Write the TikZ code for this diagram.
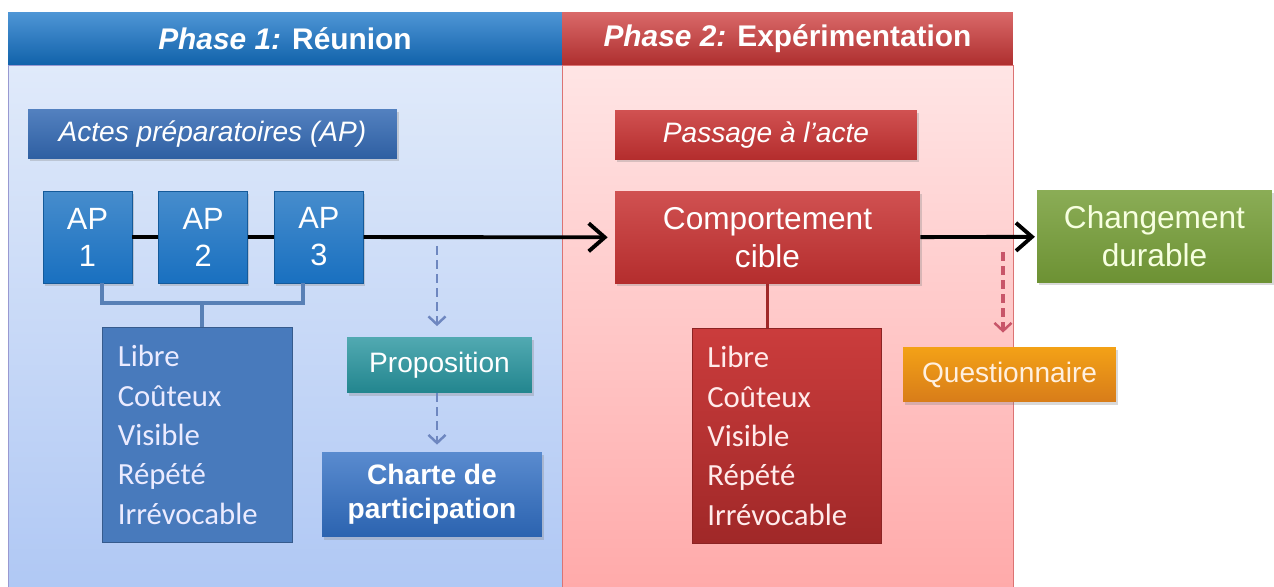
\documentclass[tikz,border=0pt]{standalone}
\usepackage{fontspec}
\setmainfont{Liberation Sans}
\newfontfamily\listfont{Carlito}
\usetikzlibrary{positioning, calc, arrows.meta, shadows}

\definecolor{headblue}{RGB}{20,115,200}
\definecolor{headred}{RGB}{205,55,55}
\definecolor{paleblue}{RGB}{224,234,250}
\definecolor{midblue}{RGB}{176,200,244}
\definecolor{palered}{RGB}{255,229,229}
\definecolor{midred}{RGB}{255,170,170}
\definecolor{apblue}{RGB}{25,112,192}
\definecolor{tagblue}{RGB}{52,106,180}
\definecolor{listblue}{RGB}{72,122,188}
\definecolor{propteal}{RGB}{38,148,158}
\definecolor{charteblue}{RGB}{48,110,195}
\definecolor{boxred}{RGB}{200,50,50}
\definecolor{boxgreen}{RGB}{118,158,56}
\definecolor{boxorange}{RGB}{240,138,28}
\definecolor{linkblue}{RGB}{88,128,182}
\definecolor{dashblue}{RGB}{110,135,192}
\definecolor{dashred}{RGB}{200,85,105}

\begin{document}
\begin{tikzpicture}[x=0.02cm, y=-0.02cm,
                every node/.style={inner sep=0pt},
                head/.style={rectangle, minimum height=1.06cm, text=white, font=\fontsize{17}{20}\selectfont\bfseries},
                tag/.style={rectangle, minimum height=0.97cm, text=white, font=\fontsize{16}{19}\selectfont\itshape, drop shadow={shadow xshift=1pt, shadow yshift=-1.5pt, opacity=0.3}},
                apbox/.style={rectangle, draw=apblue!80!black, top color=apblue!80!white, bottom color=apblue, minimum width=1.78cm, minimum height=1.84cm, text=white, align=center, font=\fontsize{17.5}{21}\selectfont, drop shadow={shadow xshift=1pt, shadow yshift=-1.5pt, opacity=0.3}},
                stepbox/.style={rectangle, minimum height=1.84cm, text=white, align=center, font=\fontsize{18}{21.5}\selectfont, drop shadow={shadow xshift=1pt, shadow yshift=-1.5pt, opacity=0.3}},
                smallbox/.style={rectangle, text=white, align=center, font=\fontsize{16}{19}\selectfont, drop shadow={shadow xshift=1pt, shadow yshift=-1.5pt, opacity=0.3}},
                listbox/.style={rectangle, anchor=north west, text width=3.18cm, inner xsep=0.3cm, minimum height=4.3cm, align=left, text=white!92!blue, font=\listfont\fontsize{17.5}{22.4}\selectfont},
                arrow/.style={line width=2.2pt, -{Straight Barb[length=3.2mm, width=5.6mm, line width=2.2pt]}},
                dasharrow/.style={line width=1.5pt, dash pattern=on 5pt off 3pt, -{Straight Barb[length=1.6mm, width=3.4mm, line width=1.4pt]}},
                bracket/.style={line width=2.2pt, linkblue}
            ]%
            \useasboundingbox (0,0) rectangle (1274,587);
            %
            % Panneaux des deux phases
            \path[top color=paleblue, bottom color=midblue, draw=black!45!blue!40] (8,65) rectangle (562,587);
            \path[top color=palered, bottom color=midred, draw=headred!70] (562,65) rectangle (1013,587);
            \node[head, top color=headblue!75!white, bottom color=headblue!85!black, minimum width=11.08cm] (head1) at (285,38.5) {\textit{Phase 1:} Réunion};
            \node[head, top color=headred!75!white, bottom color=headred!85!black, minimum width=9.02cm] (head2) at (787.5,38.5) {\textit{Phase 2:} Expérimentation};
            %
            % Etiquettes
            \node[tag, top color=tagblue!85!white, bottom color=tagblue!90!black, minimum width=7.38cm] (actes) at (212.5,134) {Actes préparatoires (AP)};
            \node[tag, top color=boxred!85!white, bottom color=boxred!90!black, minimum width=6.04cm] (passage) at (766,135) {Passage à l'acte};
            %
            % Actes préparatoires
            \node[apbox] (ap1) at (87.5,237) {AP\\1};
            \node[apbox, right=0.52cm of ap1] (ap2) {AP\\2};
            \node[apbox, right=0.52cm of ap2] (ap3) {AP\\3};
            \node[listbox, fill=listblue, draw=listblue!75!black, minimum width=3.8cm] (critA) at (102,327) {Libre\\Coûteux\\Visible\\Répété\\Irrévocable};
            \node[smallbox, top color=propteal!80!white, bottom color=propteal!90!black, minimum width=3.7cm, minimum height=1.12cm] (prop) at (439.5,365) {Proposition};
            \node[smallbox, top color=charteblue!80!white, bottom color=charteblue!90!black, minimum width=4.4cm, minimum height=1.7cm, font=\fontsize{16}{19.5}\selectfont\bfseries] (charte) at (432,494.5) {Charte de\\participation};
            %
            % Passage à l'acte
            \node[stepbox, top color=boxred!85!white, bottom color=boxred!90!black, minimum width=6.1cm] (comp) at (767.5,237.5) {Comportement\\cible};
            \node[listbox, top color=boxred!95!white, bottom color=boxred!80!black, draw=boxred!70!black, minimum width=3.74cm, text=white!92!red] (critB) at (692,328) {Libre\\Coûteux\\Visible\\Répété\\Irrévocable};
            \node[stepbox, top color=boxgreen!85!white, bottom color=boxgreen!92!black, minimum width=4.7cm, text=white!88!lime] (chgt) at (1154.5,236.5) {Changement\\durable};
            \node[smallbox, top color=boxorange!80!yellow, bottom color=boxorange!90!black, minimum width=4.26cm, minimum height=1.1cm, text=white!88!orange] (quest) at (1009.5,374.5) {Questionnaire};
            %
            % Flèches principales
            \draw[line width=2.2pt] (ap1) -- (ap2);
            \draw[line width=2.2pt] (ap2) -- (ap3);
            \draw[arrow, shorten >=4pt] (ap3) -- (comp);
            \draw[arrow, shorten >=1pt] (comp) -- (chgt);
            %
            % Accolade des AP
            \coordinate (brL) at (102,303);
            \coordinate (brR) at (303,303);
            \coordinate (brM) at (202,303);
            \draw[bracket] (brL |- ap1.south) -- (brL) -- (brR) -- (brR |- ap3.south);
            \draw[bracket] (brM) -- (brM |- critA.north);
            \draw[line width=2.2pt, boxred!80!black] (comp.south) -- (comp.south |- critB.north);
            %
            % Flèches en pointillés
            \coordinate (drop1) at (437,246);
            \coordinate (drop2) at (1003,252);
            \draw[dasharrow, dashblue, shorten >=6pt] (drop1) -- (drop1 |- prop.north);
            \draw[dasharrow, dashblue, shorten >=4pt] (drop1 |- prop.south) -- (drop1 |- charte.north);
            \draw[dasharrow, dashred, line width=1.8pt, shorten >=8pt] (drop2) -- (drop2 |- quest.north);
        \end{tikzpicture}
\end{document}
